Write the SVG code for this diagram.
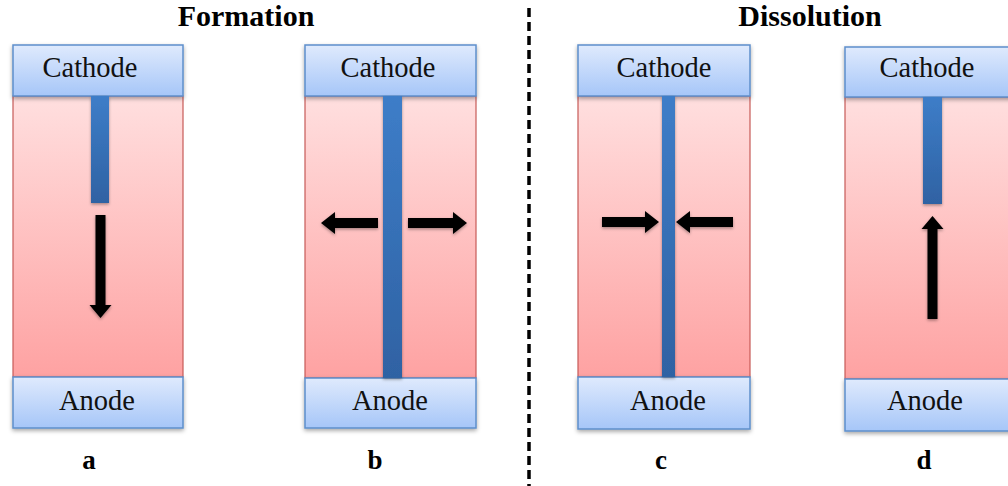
<svg xmlns="http://www.w3.org/2000/svg" width="1008" height="486" viewBox="0 0 1008 486" font-family="Liberation Serif, Times New Roman, serif">
<style>
.elec{fill:url(#gBlue);stroke:#5e8fcb;stroke-width:1.5;filter:url(#sh)}
.cell{fill:url(#gPink);stroke:#c65a58;stroke-width:1.2}
.rod{fill:url(#gRod);filter:url(#shs)}
.lbl{font-size:28.5px;fill:#111;text-anchor:middle}
.ttl{font-size:30px;font-weight:bold;fill:#000;text-anchor:middle}
.sub{font-size:27px;font-weight:bold;fill:#000;text-anchor:middle}
.arr{fill:#000;filter:url(#shs)}
</style>
<defs>
<linearGradient id="gBlue" x1="0" y1="0" x2="0" y2="1">
<stop offset="0" stop-color="#dfeafd"/><stop offset="1" stop-color="#a6c6f8"/>
</linearGradient>
<linearGradient id="gPink" x1="0" y1="0" x2="0" y2="1">
<stop offset="0" stop-color="#ffdfdf"/><stop offset="1" stop-color="#fea2a2"/>
</linearGradient>
<linearGradient id="gRod" x1="0" y1="0" x2="0" y2="1">
<stop offset="0" stop-color="#3d7dc8"/><stop offset="1" stop-color="#2f62a3"/>
</linearGradient>
<filter id="sh" x="-10%" y="-20%" width="120%" height="150%">
<feDropShadow dx="0" dy="2" stdDeviation="2" flood-color="#000" flood-opacity="0.35"/>
</filter>
<filter id="shs" x="-30%" y="-30%" width="160%" height="160%">
<feDropShadow dx="0" dy="1.5" stdDeviation="1.5" flood-color="#000" flood-opacity="0.35"/>
</filter>
</defs>

<text class="ttl" x="246" y="26" font-family="Liberation Serif, Times New Roman, serif">Formation</text>
<text class="ttl" x="810" y="26" font-family="Liberation Serif, Times New Roman, serif">Dissolution</text>

<g id="panel-a" font-family="Liberation Serif, Times New Roman, serif">
<rect class="cell" x="13" y="96" width="170" height="281"/>
<rect class="elec" x="13" y="45" width="170" height="51"/>
<rect class="elec" x="13" y="377" width="170" height="51"/>
<rect class="rod" x="91" y="96" width="18" height="107"/>
<path class="arr" d="M95.5,215 H105.5 V305 H111.5 L100.5,318 L89.5,305 H95.5 Z"/>
<text class="lbl" x="90" y="77">Cathode</text>
<text class="lbl" x="97" y="410">Anode</text>
<text class="sub" x="89" y="469">a</text>
</g>

<g id="panel-b" font-family="Liberation Serif, Times New Roman, serif">
<rect class="cell" x="305" y="96" width="171" height="282"/>
<rect class="elec" x="305" y="45" width="171" height="51"/>
<rect class="elec" x="305" y="378" width="171" height="50"/>
<rect class="rod" x="383" y="96" width="19" height="282"/>
<path class="arr" d="M378,218 V228 H335 V234 L321,223 L335,212 V218 Z"/>
<path class="arr" d="M408,218 V228 H453 V234 L467,223 L453,212 V218 Z"/>
<text class="lbl" x="388" y="77">Cathode</text>
<text class="lbl" x="390" y="410">Anode</text>
<text class="sub" x="375" y="469">b</text>
</g>

<line id="divider" x1="529" y1="8" x2="529" y2="486" stroke="#000" stroke-width="3.5" stroke-dasharray="9 5"/>

<g id="panel-c" font-family="Liberation Serif, Times New Roman, serif">
<rect class="cell" x="578" y="96" width="172" height="281"/>
<rect class="elec" x="578" y="45" width="172" height="51"/>
<rect class="elec" x="578" y="377" width="172" height="52"/>
<rect class="rod" x="662" y="96" width="13" height="281"/>
<path class="arr" d="M602,217 V227 H645 V233 L659,222 L645,211 V217 Z"/>
<path class="arr" d="M733,217 V227 H690 V233 L676,222 L690,211 V217 Z"/>
<text class="lbl" x="664" y="77">Cathode</text>
<text class="lbl" x="668" y="410">Anode</text>
<text class="sub" x="661" y="469">c</text>
</g>

<g id="panel-d" font-family="Liberation Serif, Times New Roman, serif">
<rect class="cell" x="845" y="97" width="172" height="282"/>
<rect class="elec" x="845" y="47" width="172" height="50"/>
<rect class="elec" x="845" y="379" width="172" height="52"/>
<rect class="rod" x="923" y="97" width="19" height="107"/>
<path class="arr" d="M927.5,319 H937.5 V229 H943.5 L932.5,216 L921.5,229 H927.5 Z"/>
<text class="lbl" x="927" y="77">Cathode</text>
<text class="lbl" x="925" y="410">Anode</text>
<text class="sub" x="924" y="469">d</text>
</g>
</svg>
